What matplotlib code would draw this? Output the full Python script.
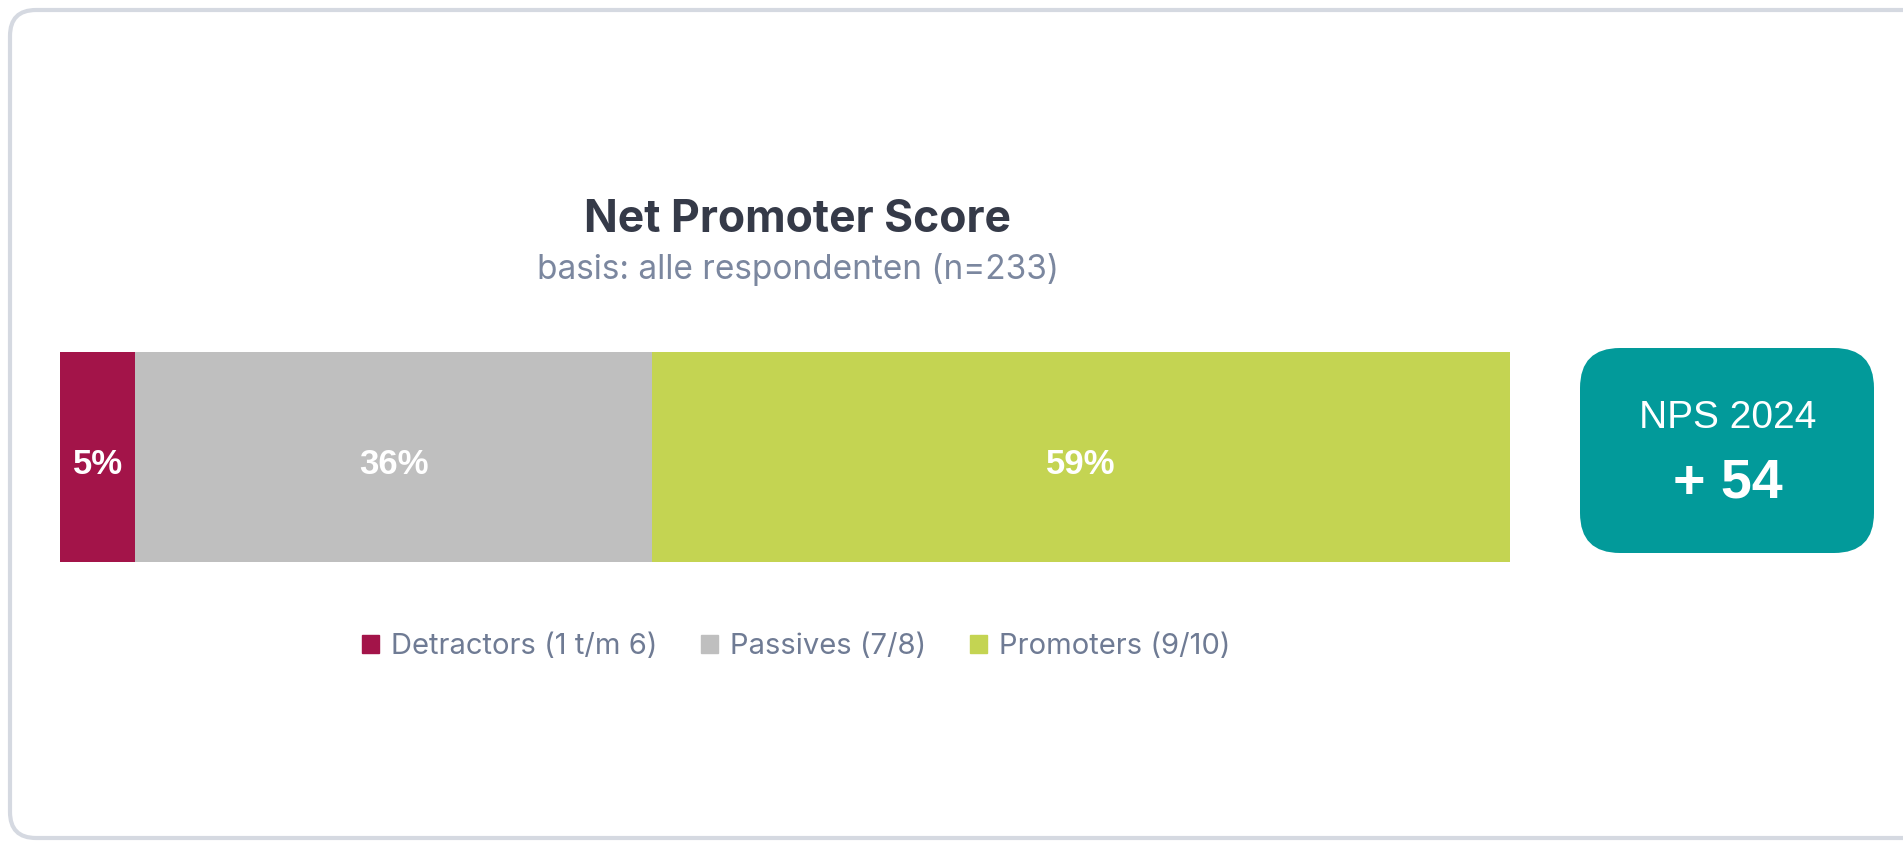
import matplotlib
matplotlib.use('Agg')
import matplotlib.pyplot as plt
from matplotlib.patches import FancyBboxPatch, Patch

categories = ['Detractors (1 t/m 6)', 'Passives (7/8)', 'Promoters (9/10)']
shares = [5.2, 35.6, 59.2]
colors = ['#A31449', '#BFBFBF', '#C4D452']
nps_year = 2024
nps_value = round(shares[2]) - round(shares[0])
title = 'Net Promoter Score'
subtitle = 'basis: alle respondenten (n=233)'

W, H = 1903, 842
fig = plt.figure(figsize=(W / 100, H / 100), dpi=100)
fig.patch.set_facecolor('white')

# background layer in pixel coords
bg = fig.add_axes([0, 0, 1, 1])
bg.set_xlim(0, W)
bg.set_ylim(H, 0)
bg.axis('off')
bg.add_patch(FancyBboxPatch((10, 10), 1920, 828,
                            boxstyle='round,pad=0,rounding_size=26',
                            fc='white', ec='#D5D9E1', lw=3))
bg.add_patch(FancyBboxPatch((1580, 348), 294, 205,
                            boxstyle='round,pad=0,rounding_size=40',
                            fc='#029A9A', ec='none'))
bg.text(1728, 418, f'NPS {nps_year}', ha='center', va='center', color='white',
        fontsize=28, family='Liberation Sans')
bg.text(1728, 483, f'+ {nps_value}', ha='center', va='center', color='white',
        fontsize=40, fontweight='bold', family='Liberation Sans')
bg.text(798, 220, title, ha='center', va='center', color='#353A48',
        fontsize=32, fontweight='bold', family='Inter')
bg.text(798, 269, subtitle, ha='center', va='center', color='#7B879F',
        fontsize=24, family='Inter')

# stacked bar
ax = fig.add_axes([60 / W, 1 - 562 / H, 1450 / W, 210 / H])
left = 0
for cat, val, col in zip(categories, shares, colors):
    ax.barh(0, val, left=left, height=1, color=col, label=cat)
    ax.text(left + val / 2, -0.035, f'{round(val)}%', ha='center', va='center',
            color='white', fontsize=25, fontweight='bold',
            family='Liberation Sans')
    left += val
ax.set_xlim(0, sum(shares))
ax.set_ylim(-0.5, 0.5)
ax.axis('off')

handles = [Patch(color=c, label=l) for c, l in zip(colors, categories)]
leg = fig.legend(handles=handles, loc='center', bbox_to_anchor=(796 / W, 1 - 647 / H),
                 ncol=3, frameon=False, handlelength=0.58, handleheight=0.58,
                 handletextpad=0.41, columnspacing=1.5,
                 prop={'family': 'Inter', 'size': 21})
for t in leg.get_texts():
    t.set_color('#6F7B94')

fig.savefig('out.png', dpi=100)
